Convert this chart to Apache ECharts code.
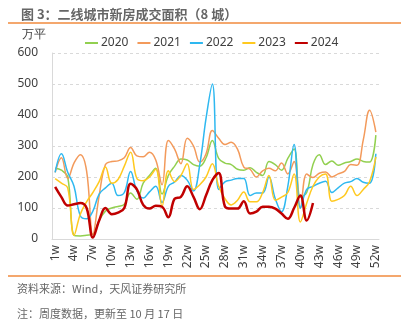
<!DOCTYPE html>
<html><head><meta charset="utf-8">
<script src="https://cdn.jsdelivr.net/npm/echarts@6/dist/echarts.min.js"></script>
<style>html,body{margin:0;padding:0;background:#fff}#c{width:401px;height:326px}</style>
</head><body><div id="c"></div>
<script>
const weeks = [];
for (let i = 1; i <= 52; i++) weeks.push(i + 'w');
const yTicks = [0, 100, 200, 300, 400, 500, 600];
const s2020 = [228,222,200,12,10,12,15,60,90,100,105,112,148,128,180,205,228,145,205,235,258,255,240,235,262,318,260,245,240,225,222,230,215,205,250,240,222,260,290,135,150,240,272,240,252,238,245,250,258,250,248,335];
const s2021 = [215,262,195,245,272,220,15,140,240,250,252,262,295,268,265,280,255,175,318,290,243,325,300,248,275,350,325,305,312,290,232,225,200,220,228,220,245,210,250,100,210,198,212,216,200,210,218,240,238,320,415,345];
const s2022 = [215,275,215,170,75,65,90,145,165,180,140,150,218,155,132,152,170,118,170,184,205,190,155,240,390,500,160,184,190,195,195,140,148,148,200,130,88,170,305,100,160,170,180,186,150,165,180,185,195,183,180,275];
const s2023 = [195,180,165,12,80,120,150,185,232,180,192,235,280,195,188,200,225,105,220,185,205,243,160,175,200,243,170,130,110,125,152,120,120,150,205,125,135,150,210,55,115,170,200,210,122,128,140,170,140,160,185,265];
const s2024 = [168,135,108,112,116,100,5,60,100,80,85,100,178,160,110,98,107,104,70,130,136,170,136,96,141,190,213,105,98,98,122,82,88,104,104,98,82,65,100,140,60,116];
const seriesNames = ['2020','2021','2022','2023','2024'];
const seriesData = [s2020, s2021, s2022, s2023, s2024];
const colors = ['#92D050','#F39A5B','#2EB8F0','#FFC91F','#C00000'];
const widths = [1.5,1.5,1.5,1.5,2.5];

const chart = echarts.init(document.getElementById('c'), null, {renderer:'canvas'});
const FONT = '"Noto Sans", "Noto Sans CJK SC", sans-serif';
chart.setOption({
  animation: false,
  textStyle: {fontFamily: FONT},
  title: {
    text: '图 3：二线城市新房成交面积（8 城）',
    left: 16, top: 3,
    textStyle: {fontSize: 13, fontWeight: 'bold', color: '#666666', fontFamily: '"Noto Sans CJK SC", sans-serif'}
  },
  legend: {
    top: 32, left: 80,
    itemWidth: 13, itemHeight: 2, itemGap: 9, icon: 'rect',
    textStyle: {fontSize: 12, color: '#404040', fontFamily: FONT, padding:[0,0,0,-2]},
    data: seriesNames
  },
  grid: {left: 52, right: 22, top: 53, bottom: 87, containLabel: false},
  xAxis: {
    type: 'category', data: weeks, boundaryGap: true,
    axisLine: {lineStyle: {color: '#D9D9D9'}},
    axisTick: {show: false},
    axisLabel: {interval: 2, rotate: 90, fontSize: 12, color: '#404040', margin: 6, fontFamily: FONT}
  },
  yAxis: {
    type: 'value', min: 0, max: 600, interval: 100,
    axisLine: {show: true, lineStyle: {color: '#D9D9D9'}},
    axisTick: {show: false},
    axisLabel: {fontSize: 12, color: '#404040', margin: 14, fontFamily: FONT,
      formatter: v => yTicks.includes(v) ? String(v) : ''},
    splitLine: {lineStyle: {color: '#D9D9D9', type: [3,3]}}
  },
  graphic: [
    {type:'line', shape:{x1:8,y1:23,x2:401,y2:23}, style:{stroke:'#F08A3C', lineWidth:1.5}},
    {type:'line', shape:{x1:8,y1:276,x2:401,y2:276}, style:{stroke:'#F08A3C', lineWidth:1.5}},
    {type:'text', left:22, top:29, style:{text:'万平', fontSize:12, fill:'#404040', font:'12px "Noto Sans CJK SC"'}},
    {type:'text', left:17, top:283, style:{text:'资料来源：Wind，天风证券研究所', fill:'#666666', font:'11px "Noto Sans CJK SC"'}},
    {type:'text', left:17, top:308, style:{text:'注：周度数据，更新至 10 月 17 日', fill:'#666666', font:'11px "Noto Sans CJK SC"'}}
  ],
  series: seriesNames.map((n, i) => ({
    name: n, type: 'line', data: seriesData[i], smooth: 0.4,
    showSymbol: false, symbol: 'none',
    lineStyle: {color: colors[i], width: widths[i]},
    itemStyle: {color: colors[i]},
    z: i + 2
  }))
});
</script></body></html>
